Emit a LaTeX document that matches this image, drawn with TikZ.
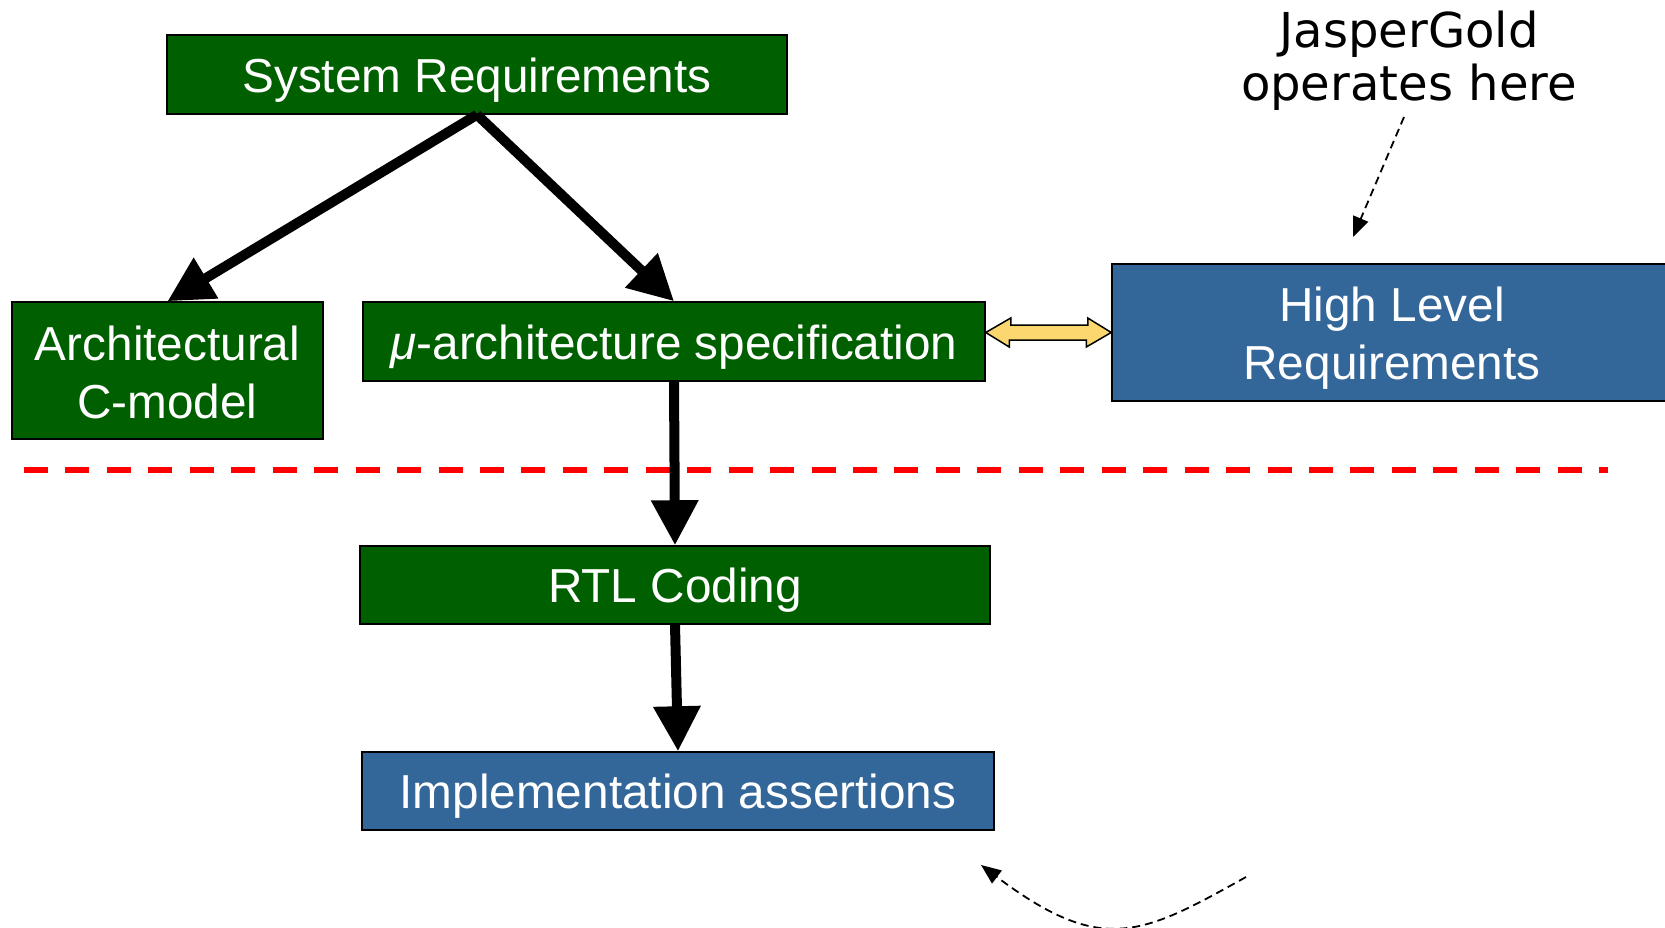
\documentclass[tikz,border=0pt]{standalone}
\usepackage{fontspec}
\setmainfont{Liberation Sans}
\newfontfamily\vfont{DejaVu Sans}
\usetikzlibrary{arrows.meta}
\definecolor{boxgreen}{RGB}{0,96,0}
\definecolor{boxblue}{RGB}{51,102,153}
\definecolor{arrowyellow}{RGB}{252,214,110}
\newcommand{\mystrut}{\rule[-0.16em]{0pt}{1.117em}}
\begin{document}
\begin{tikzpicture}[x=1pt,y=-1pt,
  stagebox/.style={draw=black, line width=1.5pt, text=white, inner sep=0pt, align=center, font=\fontsize{47.7}{57.5}\selectfont},
  greenbox/.style={stagebox, fill=boxgreen},
  bluebox/.style={stagebox, fill=boxblue},
  flow/.style={line width=10pt, -{Triangle[length=45pt,width=45pt]}},
  hint/.style={dash pattern=on 8pt off 5pt, line width=1.8pt, -{Triangle[length=20pt,width=16pt]}},
]
\useasboundingbox (0,0) rectangle (1665,928);
\fill[white] (0,0) rectangle (1665,928);

% boxes
\node[greenbox, minimum width=620pt, minimum height=79pt] (sysreq) at (477,74.5) {\mystrut System Requirements};
\node[greenbox, minimum width=311pt, minimum height=137pt] (arch) at (167.5,370.5) {\mystrut Architectural\\\mystrut C-model};
\node[greenbox, minimum width=622pt, minimum height=79pt] (uarch) at (674,341.5) {\mystrut{\itshape μ}-architecture specification};
\node[bluebox, minimum width=560pt, minimum height=137pt] (hlr) at (1392,332.5) {\mystrut High Level\\\mystrut Requirements};
\node[greenbox, minimum width=630pt, minimum height=78pt] (rtl) at (675,585) {\mystrut RTL Coding};
\node[bluebox, minimum width=632pt, minimum height=78pt] (impl) at (678,791) {\mystrut Implementation assertions};

% annotation text
\node[anchor=north, inner sep=0pt, align=center, font=\vfont\fontsize{48.1}{53}\selectfont] (jg) at (1409,11) {JasperGold\\operates here};

% red dashed separator
\coordinate (dl) at (24,470);
\coordinate (dr) at (1608,470);
\draw[red, line width=6pt, dash pattern=on 24pt off 17.45pt] (dl) -- (dr);

% flow arrows
\draw[flow] (sysreq.south) -- (arch.north);
\draw[flow] (sysreq.south) -- (uarch.north);
\draw[flow] (uarch.south) -- (rtl.north);
\draw[flow] (rtl.south) -- (impl.north);

% double arrow
\coordinate (da1) at (uarch.east |- hlr.west);
\filldraw[fill=arrowyellow, draw=black, line width=1.5pt, line join=miter]
  (da1) -- ++(25,-14.5) -- ++(0,7) -- ++(77,0) -- ++(0,-7) -- (hlr.west)
  -- ++(-25,14.5) -- ++(0,-7) -- ++(-77,0) -- ++(0,7) -- cycle;

% dashed hints
\coordinate (jgtail) at (1404,117);
\coordinate (jghead) at (1353,237);
\draw[hint] (jgtail) -- (jghead);
\coordinate (cvtail) at (1246,877);
\coordinate (cvhead) at (981,865);
\draw[hint] (cvtail) .. controls (1142,935) and (1102.5,956.5) .. (cvhead);
\end{tikzpicture}
\end{document}
